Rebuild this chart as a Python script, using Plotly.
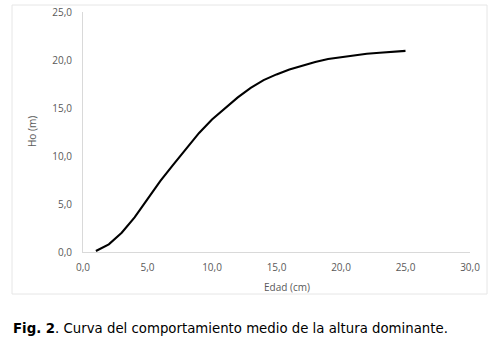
import plotly.graph_objects as go

edad = list(range(1, 26))
ho = [0.1, 0.8, 2.0, 3.6, 5.5, 7.4, 9.1, 10.8, 12.4, 13.8, 15.0, 16.1, 17.1, 17.9,
      18.5, 19.0, 19.4, 19.8, 20.1, 20.3, 20.5, 20.65, 20.75, 20.85, 20.95]

x_ticks = [0, 5, 10, 15, 20, 25, 30]
y_ticks = [0, 5, 10, 15, 20, 25]
x_labels = ["0,0", "5,0", "10,0", "15,0", "20,0", "25,0", "30,0"]
y_labels = ["0,0", "5,0", "10,0", "15,0", "20,0", "25,0"]

W, H = 494, 342
L, R, T, B = 83, 24, 12, 90
pw, ph = W - L - R, H - T - B

def px(x):
    return (x - L) / pw

def py(y):
    return (H - B - y) / ph

fig = go.Figure()
fig.add_trace(go.Scatter(x=edad, y=ho, mode="lines",
                         line=dict(color="black", width=2.1), showlegend=False))

tickfont = dict(family="Open Sans, Liberation Sans, sans-serif", size=10, color="#595959")
fig.update_layout(
    width=W, height=H,
    margin=dict(l=L, r=R, t=T, b=B, autoexpand=False),
    paper_bgcolor="white", plot_bgcolor="white",
    xaxis=dict(range=[0, 30], tickvals=x_ticks, ticktext=x_labels, showgrid=False,
               zeroline=False, showline=True, linecolor="#d9d9d9", linewidth=1,
               ticks="", tickfont=tickfont, ticklabelstandoff=6, automargin=False),
    yaxis=dict(range=[0, 25], tickvals=y_ticks, ticktext=y_labels, showgrid=False,
               zeroline=False, showline=True, linecolor="#d9d9d9", linewidth=1,
               ticks="", tickfont=tickfont, ticklabelstandoff=8, automargin=False),
    shapes=[dict(type="rect", xref="paper", yref="paper",
                 x0=px(12), x1=px(487), y0=py(294), y1=py(5),
                 line=dict(color="#e6e6e6", width=1), fillcolor="rgba(0,0,0,0)",
                 layer="below")],
    annotations=[
        dict(text="Edad (cm)", xref="paper", yref="paper", x=px(287), y=py(287),
             showarrow=False, font=tickfont, xanchor="center", yanchor="middle"),
        dict(text="Ho (m)", xref="paper", yref="paper", x=px(32), y=py(131),
             showarrow=False, font=tickfont, textangle=-90,
             xanchor="center", yanchor="middle"),
        dict(text="<b>Fig. 2</b>. Curva del comportamiento medio de la altura dominante.",
             xref="paper", yref="paper", x=px(11), y=py(328), showarrow=False,
             font=dict(family="DejaVu Sans, Verdana, sans-serif", size=13.3, color="black"),
             xanchor="left", yanchor="middle"),
    ],
)

fig.write_html("out.html")
